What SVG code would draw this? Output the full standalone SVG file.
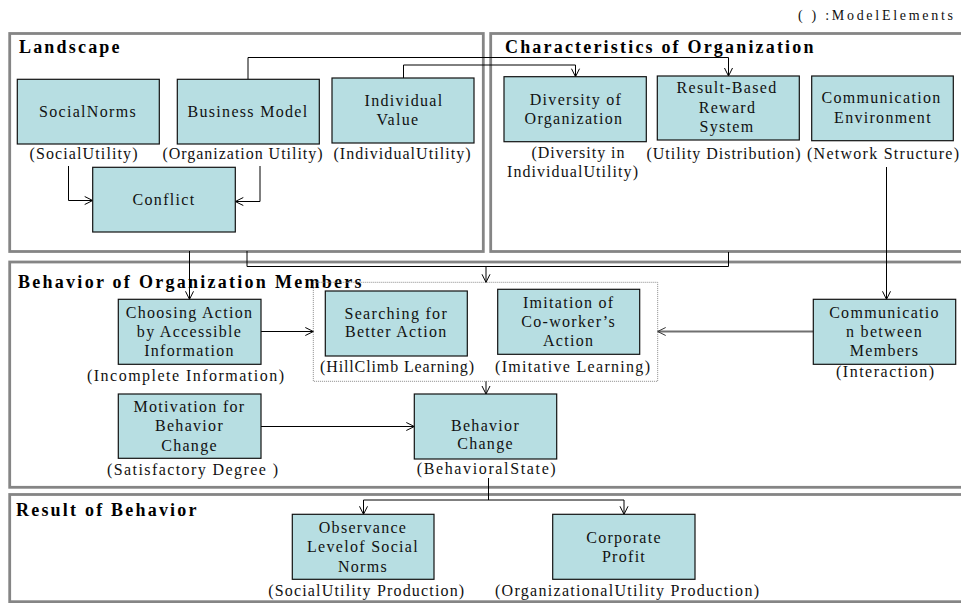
<svg xmlns="http://www.w3.org/2000/svg" width="961" height="603" viewBox="0 0 961 603">
  <defs>
    <marker id="arrow" markerUnits="userSpaceOnUse" markerWidth="10" markerHeight="10" refX="8" refY="4" orient="auto" overflow="visible">
      <path d="M0,0 L8,4 L0,8" fill="none" stroke="#000" stroke-width="1"/>
    </marker>
    <marker id="arrowGray" markerUnits="userSpaceOnUse" markerWidth="10" markerHeight="10" refX="8" refY="4" orient="auto" overflow="visible">
      <path d="M0,0 L8,4 L0,8" fill="none" stroke="#333" stroke-width="1"/>
    </marker>
  </defs>
  <style>
    .panel { fill: none; stroke: #858585; stroke-width: 2.8; }
    .node rect { fill: #B7DEE2; stroke: #111; stroke-width: 1.2; }
    text { font-family: "Liberation Serif", "Times New Roman", serif; fill: #111; }
    .t { font-size: 16px; letter-spacing: 1.3px; text-anchor: middle; }
    .lbl { font-size: 16px; letter-spacing: 1px; text-anchor: middle; }
    .title { font-size: 18px; font-weight: bold; letter-spacing: 2.5px; fill: #000; }
    .conn { fill: none; stroke: #000; stroke-width: 1; }
    .dotbox { fill: none; stroke: #8a8a8a; stroke-width: 1; stroke-dasharray: 1 1; }
  </style>

  <rect width="961" height="603" fill="#fff"/>

  <!-- legend -->
  <text x="798" y="20" style="font-size:14px" textLength="155" lengthAdjust="spacing">(  ) :ModelElements</text>

  <!-- panels -->
  <g id="panel-landscape">
    <rect class="panel" x="9.7" y="33.5" width="473.6" height="218"/>
    <text class="title" x="19" y="52.5" textLength="103" lengthAdjust="spacing">Landscape</text>
  </g>
  <g id="panel-characteristics">
    <rect class="panel" x="490.7" y="33.5" width="480" height="218"/>
    <text class="title" x="505" y="52.5" textLength="311" lengthAdjust="spacing">Characteristics of Organization</text>
  </g>
  <g id="panel-behavior">
    <rect class="panel" x="9.7" y="262" width="960" height="225.3"/>
    <text class="title" x="18" y="288" textLength="346" lengthAdjust="spacing">Behavior of Organization Members</text>
  </g>
  <g id="panel-result">
    <rect class="panel" x="9.7" y="494.5" width="960" height="107.2"/>
    <text class="title" x="16" y="516" textLength="183" lengthAdjust="spacing">Result of Behavior</text>
  </g>

  <!-- learning group -->
  <rect id="learning-group" class="dotbox" x="313.3" y="282.3" width="344.4" height="99"/>

  <!-- connectors -->
  <g id="connectors">
    <path class="conn" d="M248,79 V57.5 H728.5 V76" marker-end="url(#arrow)"/>
    <path class="conn" d="M403.5,78 V65 H575.5 V76.7" marker-end="url(#arrow)"/>
    <path class="conn" d="M68.5,166 V200.5 H92.7" marker-end="url(#arrow)"/>
    <path class="conn" d="M260,166 V201.5 H235.3" marker-end="url(#arrow)"/>
    <path class="conn" d="M189.5,251 V299.3" marker-end="url(#arrow)"/>
    <path class="conn" d="M247,251 V266.5 H728.5 V252"/>
    <path class="conn" d="M486,266.5 V282.3" marker-end="url(#arrow)"/>
    <path class="conn" d="M886.5,167 V299.3" marker-end="url(#arrow)"/>
    <path class="conn" d="M813.3,331.5 H657.7" style="stroke:#707070;stroke-width:1.8" marker-end="url(#arrowGray)"/>
    <path class="conn" d="M261,331.5 H313.3" marker-end="url(#arrow)"/>
    <path class="conn" d="M486,381.3 V394" marker-end="url(#arrow)"/>
    <path class="conn" d="M261,426.5 H414.3" marker-end="url(#arrow)"/>
    <path class="conn" d="M488.5,478 V500"/>
    <path class="conn" d="M363.5,500 H624"/>
    <path class="conn" d="M363.5,500 V514.3" marker-end="url(#arrow)"/>
    <path class="conn" d="M624,500 V514.3" marker-end="url(#arrow)"/>
  </g>

  <!-- Landscape -->
  <g id="social-norms" class="node">
    <rect x="17.3" y="79.3" width="142" height="64.7"/>
    <text class="t" x="88" y="117">SocialNorms</text>
    <text class="lbl" x="84" y="158.5" textLength="109" lengthAdjust="spacing">(SocialUtility)</text>
  </g>
  <g id="business-model" class="node">
    <rect x="177.3" y="79.3" width="142" height="64.7"/>
    <text class="t" x="248" y="117">Business Model</text>
    <text class="lbl" x="243" y="158.5" textLength="161" lengthAdjust="spacing">(Organization Utility)</text>
  </g>
  <g id="individual-value" class="node">
    <rect x="332" y="78" width="142" height="65"/>
    <text class="t" x="404" y="105.5">Individual</text>
    <text class="t" x="398" y="124.5">Value</text>
    <text class="lbl" x="402.5" y="158.5" textLength="138" lengthAdjust="spacing">(IndividualUtility)</text>
  </g>
  <g id="conflict" class="node">
    <rect x="92.7" y="167.3" width="142.6" height="64.7"/>
    <text class="t" x="164" y="205">Conflict</text>
  </g>

  <!-- Characteristics of Organization -->
  <g id="diversity" class="node">
    <rect x="504" y="76.7" width="142.3" height="65"/>
    <text class="t" x="576" y="104.5">Diversity of</text>
    <text class="t" x="574" y="123.5">Organization</text>
    <text class="lbl" x="578.5" y="158" textLength="94" lengthAdjust="spacing">(Diversity in</text>
    <text class="lbl" x="573" y="177" textLength="132" lengthAdjust="spacing">IndividualUtility)</text>
  </g>
  <g id="reward-system" class="node">
    <rect x="657.3" y="76" width="142" height="64"/>
    <text class="t" x="727" y="93">Result-Based</text>
    <text class="t" x="727.5" y="112.5">Reward</text>
    <text class="t" x="727" y="132">System</text>
    <text class="lbl" x="724" y="158.5" textLength="155" lengthAdjust="spacing">(Utility Distribution)</text>
  </g>
  <g id="communication-environment" class="node">
    <rect x="811.7" y="76" width="141.6" height="64.7"/>
    <text class="t" x="881.5" y="103">Communication</text>
    <text class="t" x="883" y="122.5">Environment</text>
    <text class="lbl" x="807" y="158.5" style="text-anchor:start" textLength="153" lengthAdjust="spacing">(Network Structure)</text>
  </g>

  <!-- Behavior of Organization Members -->
  <g id="choosing-action" class="node">
    <rect x="118.3" y="299.3" width="142.7" height="65"/>
    <text class="t" x="189.5" y="317.5">Choosing Action</text>
    <text class="t" x="189.5" y="337">by Accessible</text>
    <text class="t" x="189.5" y="355.5">Information</text>
    <text class="lbl" x="186" y="380.5" textLength="198" lengthAdjust="spacing">(Incomplete Information)</text>
  </g>
  <g id="searching" class="node">
    <rect x="325.3" y="291" width="142" height="65"/>
    <text class="t" x="396.3" y="318.5">Searching for</text>
    <text class="t" x="396.3" y="337">Better Action</text>
    <text class="lbl" x="397.5" y="372" textLength="155" lengthAdjust="spacing">(HillClimb Learning)</text>
  </g>
  <g id="imitation" class="node">
    <rect x="497.7" y="289.3" width="142" height="65"/>
    <text class="t" x="568.7" y="307.5">Imitation of</text>
    <text class="t" x="568.7" y="326.5">Co-worker’s</text>
    <text class="t" x="568.7" y="345.5">Action</text>
    <text class="lbl" x="573" y="371.5" textLength="156" lengthAdjust="spacing">(Imitative Learning)</text>
  </g>
  <g id="communication-members" class="node">
    <rect x="813.3" y="299.3" width="142.4" height="65"/>
    <text class="t" x="884.5" y="317.5">Communicatio</text>
    <text class="t" x="884.5" y="337">n between</text>
    <text class="t" x="884.5" y="355.5">Members</text>
    <text class="lbl" x="885.5" y="376.5" textLength="99" lengthAdjust="spacing">(Interaction)</text>
  </g>
  <g id="motivation" class="node">
    <rect x="118.3" y="394" width="142.7" height="64.3"/>
    <text class="t" x="189.5" y="411.5">Motivation for</text>
    <text class="t" x="189.5" y="431">Behavior</text>
    <text class="t" x="189.5" y="450.5">Change</text>
    <text class="lbl" x="193" y="474.5" textLength="172" lengthAdjust="spacing">(Satisfactory Degree )</text>
  </g>
  <g id="behavior-change" class="node">
    <rect x="414.3" y="394" width="142.4" height="65"/>
    <text class="t" x="485.5" y="430.5">Behavior</text>
    <text class="t" x="485.5" y="449">Change</text>
    <text class="lbl" x="486.7" y="473.5" textLength="140" lengthAdjust="spacing">(BehavioralState)</text>
  </g>

  <!-- Result of Behavior -->
  <g id="social-norms-observance" class="node">
    <rect x="292.3" y="514.3" width="141.7" height="65"/>
    <text class="t" x="363" y="533">Observance</text>
    <text class="t" x="363" y="552">Levelof Social</text>
    <text class="t" x="363" y="571.5">Norms</text>
    <text class="lbl" x="366.7" y="595.5" textLength="197" lengthAdjust="spacing">(SocialUtility Production)</text>
  </g>
  <g id="corporate-profit" class="node">
    <rect x="552.7" y="514.3" width="142.3" height="65"/>
    <text class="t" x="624" y="542.5">Corporate</text>
    <text class="t" x="624" y="561.5">Profit</text>
    <text class="lbl" x="627.5" y="595.5" textLength="265" lengthAdjust="spacing">(OrganizationalUtility Production)</text>
  </g>
</svg>
